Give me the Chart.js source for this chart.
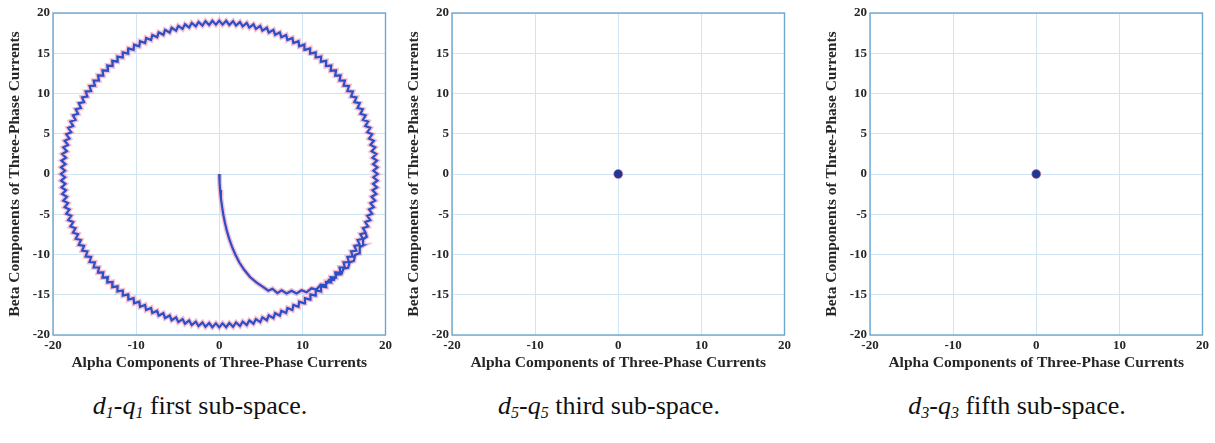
<!DOCTYPE html>
<html>
<head>
<meta charset="utf-8">
<script src="https://cdn.jsdelivr.net/npm/chart.js@4.4.1/dist/chart.umd.min.js"></script>
<style>
  body { margin: 0; background: #fff; width: 1215px; height: 443px; position: relative; overflow: hidden; }
  canvas { position: absolute; top: 0; }
  .caption {
    position: absolute; top: 391px; width: 400px; text-align: center;
    font-family: "Liberation Serif", "Times New Roman", serif; font-size: 26px;
    color: #111; white-space: nowrap;
  }
  .caption sub { font-size: 16px; vertical-align: -4px; line-height: 0; }
</style>
</head>
<body>
<canvas id="p1" width="395" height="375" style="left:0px"></canvas>
<canvas id="p2" width="395" height="375" style="left:399px"></canvas>
<canvas id="p3" width="395" height="375" style="left:817px"></canvas>

<div class="caption" style="left:0px"><i>d<sub>1</sub></i>-<i>q<sub>1</sub></i> first sub-space.</div>
<div class="caption" style="left:409px"><i>d<sub>5</sub></i>-<i>q<sub>5</sub></i> third sub-space.</div>
<div class="caption" style="left:817px"><i>d<sub>3</sub></i>-<i>q<sub>3</sub></i> fifth sub-space.</div>

<script>
// axis ticks (same for all three panels)
const alphaTicks = [-20, -10, 0, 10, 20];
const betaTicks = [-20, -15, -10, -5, 0, 5, 10, 15, 20];

// d1-q1: start-up transient from the origin
const spiralAlpha = [0, 0.02, 0.05, 0.1, 0.2, 0.33, 0.48, 0.67, 0.9, 1.18, 1.52, 1.93, 2.42, 3.0, 3.7, 4.5, 5.3, 5.9,
  6.4, 7.0, 7.5, 8.1, 8.7, 9.3, 9.9, 10.5, 11.1, 11.7, 12.2, 12.8, 13.2, 13.8, 14.1, 14.7, 14.95, 15.5,
  15.7, 16.2, 16.35, 16.85, 16.9, 17.35, 17.3, 17.75];
const spiralBeta = [0, -0.5, -1.0, -2.0, -3.0, -4.0, -5.0, -6.0, -7.0, -8.0, -9.0, -10.0, -11.0, -11.9, -12.8, -13.5, -14.05, -14.5,
  -14.25, -14.8, -14.45, -14.85, -14.5, -14.85, -14.45, -14.7, -14.2, -14.35, -13.75, -13.8, -13.15, -13.15, -12.5, -12.45, -11.75, -11.65,
  -10.95, -10.8, -10.05, -9.85, -9.1, -8.85, -8.1, -7.8];

// d1-q1: steady-state orbit with switching ripple (counter-clockwise)
const orbitAlpha = [
  17.60,17.29,17.90,17.57,18.17,17.81,18.40,18.02,18.60,18.19,18.76,18.33,18.89,18.44,18.98,18.51,19.03,18.55,
  19.05,18.55,19.03,18.51,18.98,18.44,18.89,18.33,18.76,18.19,18.60,18.02,18.40,17.81,18.17,17.57,17.90,17.29,17.60,16.98,
  17.27,16.64,16.90,16.26,16.50,15.86,16.07,15.42,15.60,14.96,15.11,14.47,14.59,13.95,14.05,13.40,13.47,12.83,12.87,12.23,
  12.25,11.61,11.60,10.97,10.93,10.31,10.24,9.62,9.53,8.92,8.80,8.20,8.05,7.47,7.29,6.72,6.52,5.96,5.73,5.19,
  4.93,4.41,4.12,3.62,3.31,2.82,2.49,2.02,1.66,1.21,0.83,0.40,
  0,-0.40,-0.83,-1.21,-1.66,-2.02,-2.49,-2.82,-3.31,-3.62,-4.12,-4.41,-4.93,-5.19,-5.73,-5.96,-6.52,-6.72,-7.29,-7.47,
  -8.05,-8.20,-8.80,-8.92,-9.53,-9.62,-10.24,-10.31,-10.93,-10.97,-11.60,-11.61,-12.25,-12.23,-12.87,-12.83,-13.47,-13.40,
  -14.05,-13.95,-14.59,-14.47,-15.11,-14.96,-15.60,-15.42,-16.07,-15.86,-16.50,-16.26,-16.90,-16.64,-17.27,-16.98,-17.60,-17.29,
  -17.90,-17.57,-18.17,-17.81,-18.40,-18.02,-18.60,-18.19,-18.76,-18.33,-18.89,-18.44,-18.98,-18.51,-19.03,-18.55,
  -19.05,-18.55,-19.03,-18.51,-18.98,-18.44,-18.89,-18.33,-18.76,-18.19,-18.60,-18.02,-18.40,-17.81,-18.17,-17.57,-17.90,-17.29,
  -17.60,-16.98,-17.27,-16.64,-16.90,-16.26,-16.50,-15.86,-16.07,-15.42,-15.60,-14.96,-15.11,-14.47,-14.59,-13.95,-14.05,-13.40,
  -13.47,-12.83,-12.87,-12.23,-12.25,-11.61,-11.60,-10.97,-10.93,-10.31,-10.24,-9.62,-9.53,-8.92,-8.80,-8.20,-8.05,-7.47,
  -7.29,-6.72,-6.52,-5.96,-5.73,-5.19,-4.93,-4.41,-4.12,-3.62,-3.31,-2.82,-2.49,-2.02,-1.66,-1.21,-0.83,-0.40,
  0,0.40,0.83,1.21,1.66,2.02,2.49,2.82,3.31,3.62,4.12,4.41,4.93,5.19,5.73,5.96,6.52,6.72,7.29,7.47,
  8.05,8.20,8.80,8.92,9.53,9.62,10.24,10.31,10.93,10.97,11.60,11.61,12.25,12.23,12.87,12.83,13.47,13.40,
  14.05,13.95,14.59,14.47,15.11,14.96,15.60,15.42,16.07,15.86,16.50,16.26,16.90,16.64,17.27,16.98,17.60
];
const orbitBeta = [
  -7.29,-6.72,-6.52,-5.96,-5.73,-5.19,-4.93,-4.41,-4.12,-3.62,-3.31,-2.82,-2.49,-2.02,-1.66,-1.21,-0.83,-0.40,
  0,0.40,0.83,1.21,1.66,2.02,2.49,2.82,3.31,3.62,4.12,4.41,4.93,5.19,5.73,5.96,6.52,6.72,7.29,7.47,
  8.05,8.20,8.80,8.92,9.53,9.62,10.24,10.31,10.93,10.97,11.60,11.61,12.25,12.23,12.87,12.83,13.47,13.40,
  14.05,13.95,14.59,14.47,15.11,14.96,15.60,15.42,16.07,15.86,16.50,16.26,16.90,16.64,17.27,16.98,17.60,17.29,
  17.90,17.57,18.17,17.81,18.40,18.02,18.60,18.19,18.76,18.33,18.89,18.44,18.98,18.51,19.03,18.55,
  19.05,18.55,19.03,18.51,18.98,18.44,18.89,18.33,18.76,18.19,18.60,18.02,18.40,17.81,18.17,17.57,17.90,17.29,
  17.60,16.98,17.27,16.64,16.90,16.26,16.50,15.86,16.07,15.42,15.60,14.96,15.11,14.47,14.59,13.95,14.05,13.40,
  13.47,12.83,12.87,12.23,12.25,11.61,11.60,10.97,10.93,10.31,10.24,9.62,9.53,8.92,8.80,8.20,8.05,7.47,
  7.29,6.72,6.52,5.96,5.73,5.19,4.93,4.41,4.12,3.62,3.31,2.82,2.49,2.02,1.66,1.21,0.83,0.40,
  0,-0.40,-0.83,-1.21,-1.66,-2.02,-2.49,-2.82,-3.31,-3.62,-4.12,-4.41,-4.93,-5.19,-5.73,-5.96,-6.52,-6.72,-7.29,-7.47,
  -8.05,-8.20,-8.80,-8.92,-9.53,-9.62,-10.24,-10.31,-10.93,-10.97,-11.60,-11.61,-12.25,-12.23,-12.87,-12.83,-13.47,-13.40,
  -14.05,-13.95,-14.59,-14.47,-15.11,-14.96,-15.60,-15.42,-16.07,-15.86,-16.50,-16.26,-16.90,-16.64,-17.27,-16.98,-17.60,-17.29,
  -17.90,-17.57,-18.17,-17.81,-18.40,-18.02,-18.60,-18.19,-18.76,-18.33,-18.89,-18.44,-18.98,-18.51,-19.03,-18.55,
  -19.05,-18.55,-19.03,-18.51,-18.98,-18.44,-18.89,-18.33,-18.76,-18.19,-18.60,-18.02,-18.40,-17.81,-18.17,-17.57,-17.90,-17.29,
  -17.60,-16.98,-17.27,-16.64,-16.90,-16.26,-16.50,-15.86,-16.07,-15.42,-15.60,-14.96,-15.11,-14.47,-14.59,-13.95,-14.05,-13.40,
  -13.47,-12.83,-12.87,-12.23,-12.25,-11.61,-11.60,-10.97,-10.93,-10.31,-10.24,-9.62,-9.53,-8.92,-8.80,-8.20,-8.05,-7.47,-7.29
];

// d5-q5 and d3-q3: stay at the origin
const d5q5Alpha = [0];
const d5q5Beta = [0];
const d3q3Alpha = [0];
const d3q3Beta = [0];

function toPoints(xs, ys) {
  return xs.map((x, i) => ({ x: x, y: ys[i] }));
}

const serif = '"Liberation Serif", "Times New Roman", serif';
const gridBlue = '#d0e4f1';
const boxBlue = '#6fa7cc';
const textCol = '#262626';

// MATLAB style closed box around the axes
const boxPlugin = {
  id: 'box',
  afterDraw(chart) {
    const a = chart.chartArea;
    const ctx = chart.ctx;
    ctx.save();
    ctx.strokeStyle = boxBlue;
    ctx.lineWidth = 1.4;
    ctx.strokeRect(a.left, a.top, a.right - a.left, a.bottom - a.top);
    ctx.restore();
  }
};

function makePanel(id, datasets) {
  const ctx = document.getElementById(id).getContext('2d');
  return new Chart(ctx, {
    type: 'scatter',
    data: { datasets: datasets },
    options: {
      responsive: false,
      animation: false,
      layout: { padding: { top: 13, right: 8, left: 0, bottom: 0 } },
      plugins: { legend: { display: false }, tooltip: { enabled: false } },
      scales: {
        x: {
          type: 'linear', min: alphaTicks[0], max: alphaTicks[alphaTicks.length - 1],
          afterBuildTicks: s => { s.ticks = alphaTicks.map(v => ({ value: v })); },
          afterFit: s => { s.height = 40; },
          ticks: { font: { family: serif, size: 13, weight: 'bold' }, color: textCol, padding: 3 },
          grid: { color: gridBlue, drawTicks: false },
          border: { display: false },
          title: {
            display: true, text: 'Alpha Components of Three-Phase Currents',
            font: { family: serif, size: 15.5, weight: 'bold' }, color: textCol,
            padding: { top: 0, bottom: 3 }
          }
        },
        y: {
          type: 'linear', min: betaTicks[0], max: betaTicks[betaTicks.length - 1],
          afterBuildTicks: s => { s.ticks = betaTicks.map(v => ({ value: v })); },
          afterFit: s => { s.width = 53; },
          ticks: { font: { family: serif, size: 13, weight: 'bold' }, color: textCol, padding: 3 },
          grid: { color: gridBlue, drawTicks: false },
          border: { display: false },
          title: {
            display: true, text: 'Beta Components of Three-Phase Currents',
            font: { family: serif, size: 15.5, weight: 'bold' }, color: textCol,
            padding: { top: 6, bottom: 0 }
          }
        }
      }
    },
    plugins: [boxPlugin]
  });
}

const d1q1Trace = toPoints(spiralAlpha.concat(orbitAlpha), spiralBeta.concat(orbitBeta));

makePanel('p1', [
  { data: d1q1Trace, showLine: true, pointRadius: 0, borderColor: '#2b4fc6', borderWidth: 2.2, order: 1 },
  { data: d1q1Trace, showLine: true, pointRadius: 0, borderColor: 'rgba(238,130,170,0.5)', borderWidth: 5, order: 2 }
]);

makePanel('p2', [
  { data: toPoints(d5q5Alpha, d5q5Beta), pointRadius: 4.5, backgroundColor: '#1b3896', borderColor: 'rgba(220,110,140,0.6)', borderWidth: 1 }
]);

makePanel('p3', [
  { data: toPoints(d3q3Alpha, d3q3Beta), pointRadius: 4.5, backgroundColor: '#1b3896', borderColor: 'rgba(220,110,140,0.6)', borderWidth: 1 }
]);
</script>
</body>
</html>
